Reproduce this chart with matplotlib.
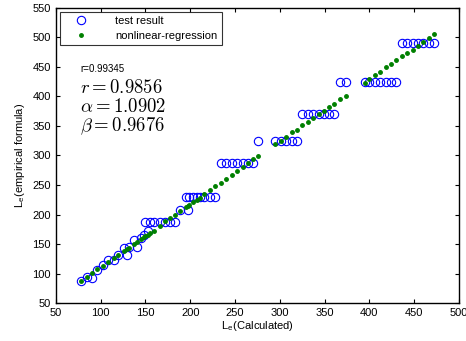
import numpy as np
import matplotlib
matplotlib.use("Agg")
import matplotlib.pyplot as plt

plt.rcParams['font.family'] = ['Liberation Sans', 'DejaVu Sans']
plt.rcParams['mathtext.fontset'] = 'cm'

# --- data: L_e calculated vs. empirical formula ---
le_calc = [78.5, 84.8, 90.7, 96.3, 102.7, 108.6, 114.5, 119.8, 126.0, 129.0,
           131.7, 137.0, 141.0, 144.6, 148.4, 150.0, 153.0, 155.0, 159.0, 165.8,
           171.9, 177.5, 183.0, 189.0, 195.0, 197.5, 199.0, 203.0, 207.0, 210.5,
           215.5, 221.7, 228.0, 234.4, 240.3, 246.7, 252.2, 258.5, 264.1, 270.1,
           276.0, 295.0, 301.3, 307.3, 313.6, 319.2, 325.1, 331.5, 337.1, 343.3,
           348.9, 354.9, 360.8, 367.5, 373.9, 394.6, 399.9, 405.8, 412.2, 418.1,
           424.1, 430.0, 436.4, 442.3, 448.2, 453.8, 459.8, 466.1, 471.7]

le_test = [87, 95, 92, 106, 114, 123, 123, 132, 144, 132,
           145, 157, 145, 160, 165, 188, 172, 188, 188, 188,
           188, 188, 188, 208, 230, 208, 230, 230, 230, 230,
           230, 230, 230, 288, 288, 288, 288, 288, 288, 288,
           325, 325, 325, 325, 325, 325, 370, 370, 370, 370,
           370, 370, 370, 424, 424, 424, 424, 424, 424, 424,
           424, 424, 491, 491, 491, 491, 491, 491, 491]

le_fit = [87, 94, 101, 107, 113, 120, 126, 132, 138, 141,
          144, 150, 154, 158, 162, 163, 166, 168, 173, 181,
          189, 194, 200, 206, 212, 215, 216, 221, 225, 228,
          235, 242, 248, 254, 260, 267, 274, 280, 287, 294,
          299, 320, 325, 332, 339, 344, 351, 357, 363, 370,
          376, 382, 388, 395, 401, 422, 430, 436, 442, 449,
          455, 461, 468, 473, 479, 486, 493, 499, 505]

fig = plt.figure(figsize=(4.66, 3.41), dpi=100)
ax = fig.add_axes([0.120, 0.111, 0.865, 0.866])

ax.plot(le_calc, le_test, 'o', mfc='none', mec='blue', ms=6, mew=0.8,
        label='test result')
ax.plot(le_calc, le_fit, '.', color='green', ms=5, label='nonlinear-regression')

ax.set_xlim(50, 500)
ax.set_ylim(50, 550)
ax.set_xticks(np.arange(50, 501, 50))
ax.set_yticks(np.arange(50, 551, 50))
ax.tick_params(direction='in', top=True, right=True, labelsize=8, length=3)
for s in ax.spines.values():
    s.set_linewidth(1.0)

ax.set_xlabel('L$_\\mathregular{e}$(Calculated)', fontsize=8, labelpad=1)
ax.set_ylabel('L$_\\mathregular{e}$(empirical formula)', fontsize=8, labelpad=4)

leg = ax.legend(loc='upper left', fontsize=8, fancybox=False, edgecolor='black',
                borderaxespad=0.4, handletextpad=1.6, handlelength=3.0,
                labelspacing=0.45, borderpad=0.35)
leg.get_frame().set_linewidth(0.8)

ax.text(0.06, 0.793, 'r=0.99345', transform=ax.transAxes, fontsize=7, va='center')
ax.text(0.06, 0.729, r'$r = 0.9856$', transform=ax.transAxes, fontsize=13.5, va='center')
ax.text(0.06, 0.664, r'$\alpha = 1.0902$', transform=ax.transAxes, fontsize=13.5, va='center')
ax.text(0.06, 0.600, r'$\beta = 0.9676$', transform=ax.transAxes, fontsize=13.5, va='center')

fig.savefig('out.png', dpi=100)
